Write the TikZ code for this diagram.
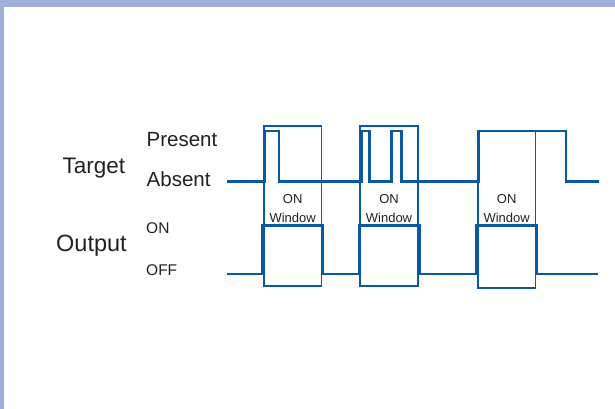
\documentclass[tikz,border=0pt]{standalone}
\usepackage{fontspec}
\setmainfont{Liberation Sans}
\definecolor{frame}{HTML}{9FAFD8}
\definecolor{wave}{HTML}{0B58A2}
\definecolor{txt}{HTML}{222222}
\begin{document}
\begin{tikzpicture}[x=1pt,y=-1pt,
  lbl/.style={inner sep=0pt,anchor=base west,text=txt},
  wlbl/.style={inner sep=0pt,anchor=base,text=txt,font=\fontsize{13}{15}\selectfont},
  sig/.style={draw=wave,line width=2.7pt,line join=miter},
  winbox/.style={draw=wave,line width=1.1pt}]
\useasboundingbox (0,0) rectangle (615,409);
\fill[white] (0,0) rectangle (615,409);
\fill[frame] (0,0) rectangle (615,6.7);
\fill[frame] (0,0) rectangle (4,409);
% labels
\node[lbl,font=\fontsize{22.5}{26}\selectfont] (target) at (62.5,173.3) {Target};
\node[lbl,font=\fontsize{20.5}{24}\selectfont] (present) at (146.5,146) {Present};
\node[lbl,font=\fontsize{20.5}{24}\selectfont] (absent) at (146.5,186) {Absent};
\node[lbl,font=\fontsize{23.5}{27}\selectfont] (output) at (56,251.7) {Output};
\node[lbl,font=\fontsize{15.5}{18}\selectfont] (on) at (146,233.3) {ON};
\node[lbl,font=\fontsize{15.5}{18}\selectfont] (off) at (146,275) {OFF};
% windows
\draw[winbox] (264,126) rectangle (321.3,286);
\draw[winbox] (360,126) rectangle (418,286);
\draw[winbox] (478,131) rectangle (535.3,288);
\node[wlbl] (on1) at (292.7,203.3) {ON};
\node[wlbl] (w1) at (292.7,222.3) {Window};
\node[wlbl] (on2) at (389,203.3) {ON};
\node[wlbl] (w2) at (389,222.3) {Window};
\node[wlbl] (on3) at (506.7,203.3) {ON};
\node[wlbl] (w3) at (506.7,222.3) {Window};
% target signal
\draw[sig] (227,181.3) -- (265,181.3) -- (265,131) -- (279,131) -- (279,181.3)
  -- (361.5,181.3) -- (361.5,131) -- (369.5,131) -- (369.5,181.3)
  -- (391.5,181.3) -- (391.5,131) -- (401.5,131) -- (401.5,181.3)
  -- (478.3,181.3) -- (478.3,131) -- (566,131) -- (566,181.3) -- (598.5,181.3);
% output signal
\draw[sig] (227,274) -- (262.7,274) -- (262.7,225.7) -- (322.7,225.7) -- (322.7,274)
  -- (359.3,274) -- (359.3,225.7) -- (419.3,225.7) -- (419.3,274)
  -- (476.7,274) -- (476.7,225.7) -- (536.7,225.7) -- (536.7,274) -- (597.5,274);
\end{tikzpicture}
\end{document}
